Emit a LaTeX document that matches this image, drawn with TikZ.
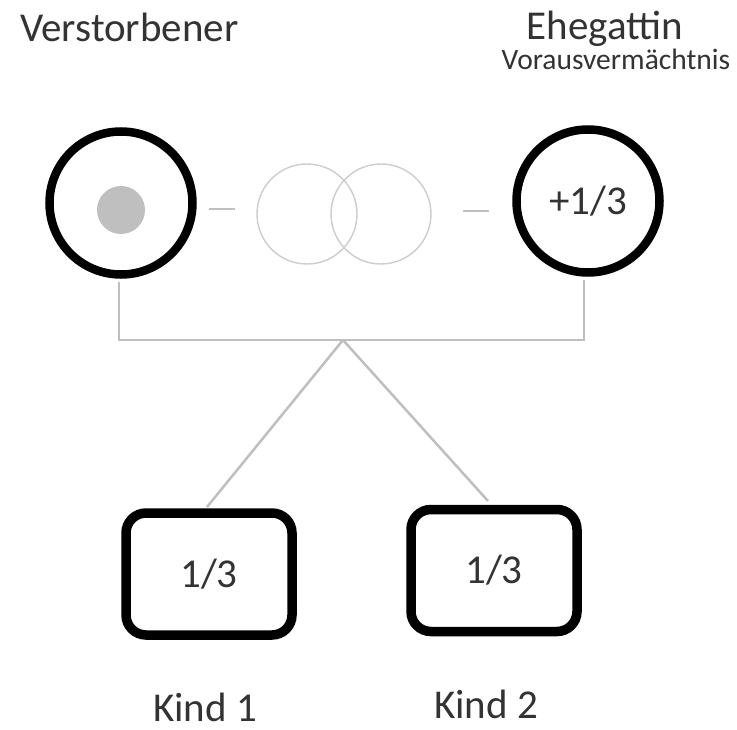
\documentclass[tikz,border=0pt]{standalone}
\usepackage{fontspec}
\setmainfont{Carlito}
\definecolor{txt}{HTML}{333333}
\definecolor{conn}{HTML}{BFBFBF}
\definecolor{ring}{HTML}{CDCDCD}
\begin{document}
\begin{tikzpicture}[x=1pt,y=-1pt,
  big/.style={font=\fontsize{41}{41}\selectfont, text=txt, inner sep=0pt},
  small/.style={font=\fontsize{29.5}{30}\selectfont, text=txt, inner sep=0pt},
  person/.style={circle, draw=black, line width=8.5pt, minimum size=143pt, inner sep=0pt},
  child/.style={draw=black, line width=9.5pt, rounded corners=20pt, minimum width=166pt, minimum height=122pt, inner sep=0pt},
  link/.style={draw=conn, line width=2.5pt},
  marriage/.style={circle, draw=ring, line width=1.4pt, minimum size=100pt, inner sep=0pt}
]
\useasboundingbox (0,0) rectangle (737,730);
\fill[white] (0,0) rectangle (737,730);

% labels
\node[big, anchor=base west] (lv) at (20,42) {Verstorbener};
\node[big, anchor=base] (le) at (605,40) {Ehegattin};
\node[small, anchor=base] (lva) at (616,70) {Vorausvermächtnis};
\node[big, anchor=base] (lk1) at (205,721) {Kind 1};
\node[big, anchor=base] (lk2) at (486,718) {Kind 2};

% marriage rings and dashes
\node[marriage] (m1) at (307,214) {};
\node[marriage] (m2) at (381,214) {};
\coordinate (d1a) at (209,209); \coordinate (d1b) at (235,209);
\coordinate (d2a) at (463,211); \coordinate (d2b) at (489,211);
\draw[draw=conn, line width=2.2pt] (d1a) -- (d1b);
\draw[draw=conn, line width=2.2pt] (d2a) -- (d2b);

% connectors
\coordinate (apex) at (343,340);
\coordinate (lt) at (119,282);
\coordinate (rt) at (584,280);
\coordinate (k1t) at (207,507);
\coordinate (k2t) at (488,501);
\draw[link] (lt) -- (lt |- apex) -- (rt |- apex) -- (rt);
\draw[link] (apex) -- (k1t);
\draw[link] (apex) -- (k2t);

% persons
\node[person] (dec) at (121,203) {};
\fill[conn] (121,210) circle (24pt);
\node[person, big] (sp) at (588,201) {+1/3};

% children
\node[child, big] (k1) at (209,574) {1/3};
\node[child, big] (k2) at (494,570.5) {1/3};
\end{tikzpicture}
\end{document}
